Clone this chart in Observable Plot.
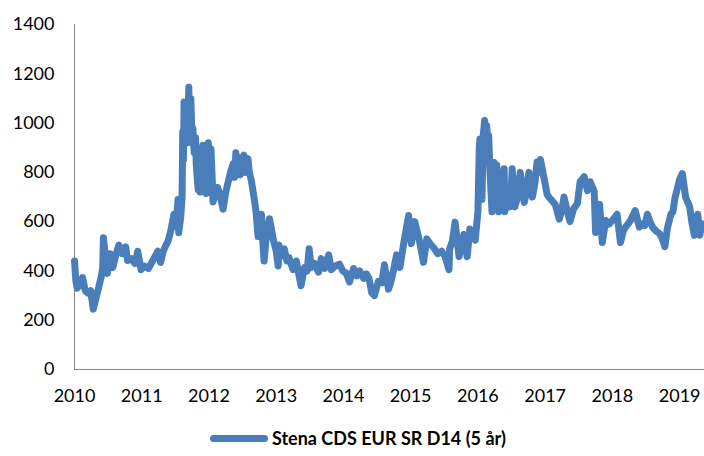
<!DOCTYPE html>
<html>
<head>
<meta charset="utf-8">
<script src="https://cdn.jsdelivr.net/npm/d3@7"></script>
<script src="https://cdn.jsdelivr.net/npm/@observablehq/plot@0.6"></script>
<style>
  html, body { margin: 0; padding: 0; background: #fff; }
  #chart { width: 704px; }
  .legend { display: flex; align-items: center; height: 36px; padding-left: 210px; font-family: Lato, "Open Sans", sans-serif; font-weight: bold; font-size: 18px; color: #000; }
  .legend .sw { width: 58px; height: 7px; border-radius: 4px; background: #4A7EBB; margin-right: 4px; }
</style>
</head>
<body>
<div id="chart"></div>
<script>
const seriesName = "Stena CDS EUR SR D14 (5 år)";
const yearTicks = [2010, 2011, 2012, 2013, 2014, 2015, 2016, 2017, 2018, 2019];
const valueTicks = [0, 200, 400, 600, 800, 1000, 1200, 1400];

const dates = [
  2010.00, 2010.02, 2010.04, 2010.08, 2010.12, 2010.16, 2010.20, 2010.24, 2010.28, 2010.32, 2010.36,
  2010.40, 2010.42, 2010.43, 2010.46, 2010.49, 2010.53, 2010.57, 2010.62, 2010.66, 2010.71,
  2010.76, 2010.79, 2010.84, 2010.90, 2010.94, 2010.99, 2011.04, 2011.10, 2011.16, 2011.24,
  2011.28, 2011.32, 2011.36, 2011.39, 2011.43, 2011.48, 2011.51, 2011.54, 2011.55, 2011.58,
  2011.60, 2011.61, 2011.62, 2011.63, 2011.65, 2011.66, 2011.68, 2011.70, 2011.71, 2011.73,
  2011.75, 2011.76, 2011.78, 2011.80, 2011.81, 2011.83, 2011.84, 2011.86, 2011.87, 2011.89,
  2011.91, 2011.93, 2011.96, 2011.97, 2011.99, 2012.01, 2012.03, 2012.05, 2012.06, 2012.10,
  2012.13, 2012.17, 2012.21, 2012.25, 2012.28, 2012.32, 2012.36, 2012.38, 2012.40, 2012.42,
  2012.44, 2012.46, 2012.48, 2012.50, 2012.52, 2012.55, 2012.58, 2012.60, 2012.63, 2012.67,
  2012.70, 2012.73, 2012.75, 2012.78, 2012.80, 2012.82, 2012.86, 2012.90, 2012.96, 2013.00,
  2013.03, 2013.04, 2013.08, 2013.12, 2013.16, 2013.19, 2013.25, 2013.30, 2013.34, 2013.37,
  2013.42, 2013.46, 2013.49, 2013.52, 2013.57, 2013.63, 2013.67, 2013.72, 2013.78, 2013.82,
  2013.88, 2013.94, 2013.99, 2014.04, 2014.09, 2014.15, 2014.20, 2014.24, 2014.30, 2014.34,
  2014.38, 2014.42, 2014.46, 2014.52, 2014.57, 2014.61, 2014.67, 2014.71, 2014.75, 2014.79,
  2014.84, 2014.90, 2014.94, 2014.97, 2015.01, 2015.06, 2015.13, 2015.19, 2015.24, 2015.29,
  2015.34, 2015.40, 2015.46, 2015.51, 2015.57, 2015.58, 2015.62, 2015.66, 2015.72, 2015.79,
  2015.84, 2015.88, 2015.91, 2015.96, 2016.00, 2016.02, 2016.03, 2016.05, 2016.06, 2016.08,
  2016.10, 2016.12, 2016.13, 2016.15, 2016.16, 2016.18, 2016.21, 2016.22, 2016.24, 2016.26,
  2016.28, 2016.30, 2016.31, 2016.33, 2016.35, 2016.37, 2016.39, 2016.40, 2016.42, 2016.45,
  2016.48, 2016.50, 2016.51, 2016.53, 2016.55, 2016.57, 2016.59, 2016.61, 2016.63, 2016.66,
  2016.69, 2016.72, 2016.74, 2016.76, 2016.78, 2016.81, 2016.85, 2016.88, 2016.90, 2016.93,
  2016.99, 2017.03, 2017.06, 2017.10, 2017.15, 2017.21, 2017.25, 2017.28, 2017.33, 2017.37,
  2017.42, 2017.48, 2017.52, 2017.58, 2017.63, 2017.67, 2017.73, 2017.75, 2017.78, 2017.81,
  2017.85, 2017.90, 2017.95, 2018.00, 2018.07, 2018.12, 2018.16, 2018.19, 2018.23, 2018.27,
  2018.34, 2018.40, 2018.44, 2018.48, 2018.52, 2018.56, 2018.60, 2018.65, 2018.70, 2018.74,
  2018.78, 2018.82, 2018.87, 2018.90, 2018.93, 2018.97, 2019.00, 2019.04, 2019.09, 2019.15,
  2019.18, 2019.22, 2019.27, 2019.30, 2019.33, 2019.36
];

const spreads = [
  440, 360, 330, 345, 373, 320, 310, 320, 245, 290, 333,
  380, 414, 535, 460, 390, 470, 414, 470, 505, 470,
  498, 442, 450, 430, 480, 405, 420, 410, 440, 480,
  434, 480, 505, 520, 560, 630, 580, 690, 555, 620,
  700, 965, 850, 1085, 940, 1050, 920, 1145, 1000, 1100,
  920, 980, 880, 940, 836, 760, 730, 800, 720, 880,
  910, 760, 714, 860, 920, 840, 895, 760, 680, 720,
  739, 700, 650, 720, 755, 800, 836, 780, 880, 820,
  860, 790, 795, 840, 870, 800, 855, 800, 767, 698,
  640, 540, 600, 630, 520, 440, 560, 612, 523, 480,
  420, 505, 460, 490, 440, 454, 405, 440, 380, 340,
  414, 400, 490, 414, 430, 395, 450, 410, 465, 405,
  420, 428, 400, 392, 355, 410, 380, 400, 370, 388,
  370, 312, 300, 358, 352, 425, 326, 360, 410, 465,
  414, 518, 580, 625, 511, 600, 523, 435, 530, 510,
  495, 470, 480, 460, 405, 490, 520, 598, 458, 548,
  458, 570, 560, 525, 640, 900, 935, 780, 690, 950,
  1010, 940, 990, 900, 950, 800, 640, 760, 840, 700,
  830, 700, 640, 680, 700, 760, 815, 640, 700, 680,
  660, 760, 815, 700, 660, 680, 700, 760, 800, 720,
  678, 720, 770, 800, 740, 700, 760, 842, 800, 852,
  767, 710, 698, 686, 670, 610, 650, 700, 640, 600,
  650, 674, 762, 782, 726, 762, 722, 556, 640, 670,
  515, 605, 590, 605, 630, 515, 560, 576, 590, 605,
  645, 578, 590, 584, 630, 600, 576, 562, 552, 532,
  498, 576, 630, 640, 695, 738, 772, 795, 698, 660,
  600, 545, 630, 545, 592, 578
];

const data = dates.map((d, i) => ({date: d, spread: spreads[i]}));

const chart = Plot.plot({
  width: 704,
  height: 420,
  marginLeft: 74,
  marginRight: 0,
  marginTop: 24,
  marginBottom: 51,
  style: {fontFamily: "Lato, 'Open Sans', sans-serif", fontSize: "18px", color: "#000", background: "#fff"},
  x: {domain: [2010, 2019.37]},
  y: {domain: [0, 1400]},
  marks: [
    Plot.axisX({ticks: yearTicks, tickSize: 0, tickPadding: 20, tickFormat: d => String(d), label: null}),
    Plot.axisY({ticks: valueTicks, tickSize: 0, tickPadding: 20, tickFormat: d => String(d), label: null}),
    Plot.ruleY([0], {stroke: "#868686", strokeWidth: 1}),
    Plot.ruleX([2010], {stroke: "#868686", strokeWidth: 1}),
    Plot.line(data, {x: "date", y: "spread", stroke: "#4A7EBB", strokeWidth: 7, strokeLinejoin: "round", strokeLinecap: "round"})
  ]
});

const root = document.getElementById("chart");
root.appendChild(chart);
const legend = document.createElement("div");
legend.className = "legend";
const sw = document.createElement("span");
sw.className = "sw";
const lbl = document.createElement("span");
lbl.textContent = seriesName;
legend.appendChild(sw);
legend.appendChild(lbl);
root.appendChild(legend);
</script>
</body>
</html>
